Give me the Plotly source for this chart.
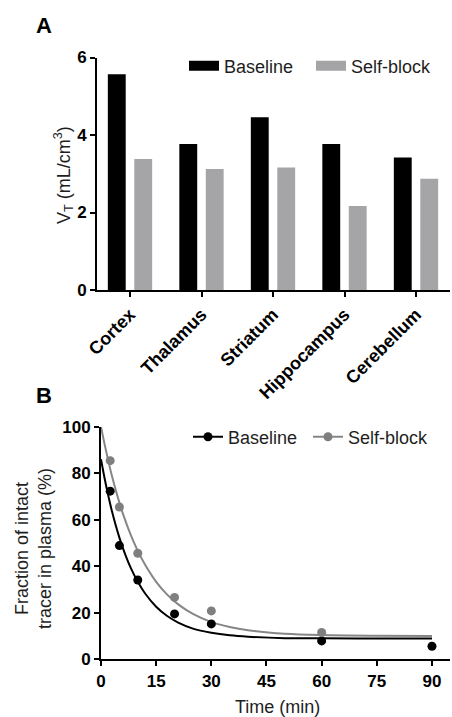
import plotly.graph_objects as go

# ---------------- data ----------------
regions = ["Cortex", "Thalamus", "Striatum", "Hippocampus", "Cerebellum"]
vt_baseline = [5.57, 3.77, 4.46, 3.77, 3.42]
vt_selfblock = [3.38, 3.12, 3.16, 2.17, 2.87]

time_baseline = [2.5, 5, 10, 20, 30, 60, 90]
frac_baseline = [72.3, 48.9, 34.1, 19.5, 15.2, 7.9, 5.6]
time_selfblock = [2.5, 5, 10, 20, 30, 60]
frac_selfblock = [85.4, 65.5, 45.6, 26.6, 20.8, 11.5]

fit_time = [0, 1, 2, 3, 4, 5, 6, 8, 10, 12, 15, 18, 21, 25, 30, 35, 40, 50, 60, 75, 90]
fit_baseline = [86.0, 77.6, 70.2, 63.5, 57.6, 52.3, 47.6, 39.6, 33.3, 28.3, 22.6, 18.6,
                15.8, 13.2, 11.4, 10.3, 9.7, 9.1, 9.0, 8.9, 8.9]
fit_selfblock = [100.0, 92.3, 85.2, 78.7, 72.8, 67.4, 62.4, 53.8, 46.6, 40.6, 33.3, 27.8,
                 23.6, 19.5, 16.0, 13.9, 12.5, 11.0, 10.4, 10.1, 10.0]

time_ticks = [0, 15, 30, 45, 60, 75, 90]
frac_ticks = [0, 20, 40, 60, 80, 100]
vt_ticks = [0, 2, 4, 6]
series_names = ["Baseline", "Self-block"]

# ---------------- style ----------------
FONT = "Arial, Liberation Sans, sans-serif"
BLACK = "#000000"
BAR_GRAY = "#a5a5a8"
LINE_GRAY = "#868686"
MARK_GRAY = "#7f7f7f"
TEXT = "#1e1e1e"
W, H = 452, 717


def px_x(p):
    return p / W


def px_y(p):
    return 1 - p / H


fig = go.Figure()

# Panel A bars
fig.add_trace(go.Bar(x=regions, y=vt_baseline, name=series_names[0], marker_color=BLACK,
                     marker_line_width=0, width=0.25, offset=-0.31,
                     xaxis="x", yaxis="y", showlegend=False))
fig.add_trace(go.Bar(x=regions, y=vt_selfblock, name=series_names[1], marker_color=BAR_GRAY,
                     marker_line_width=0, width=0.25, offset=0.06,
                     xaxis="x", yaxis="y", showlegend=False))
# Panel A legend swatches (wide rectangles)
for nm, col in zip(series_names, [BLACK, BAR_GRAY]):
    fig.add_trace(go.Scatter(x=[None], y=[None], mode="lines", name=nm,
                             line=dict(color=col, width=12), xaxis="x", yaxis="y",
                             legend="legend"))

# Panel B fits (lines) and points
fig.add_trace(go.Scatter(x=fit_time, y=fit_baseline, mode="lines", line=dict(color=BLACK, width=2),
                         line_shape="spline", showlegend=False, xaxis="x2", yaxis="y2", hoverinfo="skip"))
fig.add_trace(go.Scatter(x=fit_time, y=fit_selfblock, mode="lines", line=dict(color=LINE_GRAY, width=2),
                         line_shape="spline", showlegend=False, xaxis="x2", yaxis="y2", hoverinfo="skip"))
fig.add_trace(go.Scatter(x=time_baseline, y=frac_baseline, mode="markers", name=series_names[0],
                         marker=dict(color=BLACK, size=9), xaxis="x2", yaxis="y2", showlegend=False))
fig.add_trace(go.Scatter(x=time_selfblock, y=frac_selfblock, mode="markers", name=series_names[1],
                         marker=dict(color=MARK_GRAY, size=9), xaxis="x2", yaxis="y2", showlegend=False))
# Panel B legend entries (line + marker)
for nm, lc, mc in zip(series_names, [BLACK, LINE_GRAY], [BLACK, MARK_GRAY]):
    fig.add_trace(go.Scatter(x=[None], y=[None], mode="lines+markers", name=nm,
                             line=dict(color=lc, width=2), marker=dict(color=mc, size=9),
                             xaxis="x2", yaxis="y2", legend="legend2"))

axis_common = dict(showline=True, linecolor=BLACK, linewidth=2, ticks="outside", ticklen=5,
                   tickwidth=2, tickcolor=BLACK, showgrid=False, zeroline=False,
                   automargin=False,
                   tickfont=dict(family=FONT, size=17, color=BLACK, weight="bold"))


def ann(text, x, y, size=18, angle=0, color=TEXT):
    return dict(text=text, x=px_x(x), y=px_y(y), xref="paper", yref="paper",
                xanchor="center", yanchor="middle", showarrow=False, textangle=angle,
                font=dict(family=FONT, size=size, color=color))


fig.update_layout(
    template="none",
    width=W, height=H,
    margin=dict(l=0, r=0, t=0, b=0, autoexpand=False),
    paper_bgcolor="white", plot_bgcolor="white",
    font=dict(family=FONT, color=BLACK),
    barmode="overlay",
    hovermode=False,
    xaxis=dict(domain=[px_x(97), px_x(450)], anchor="y", type="category",
               range=[-0.4615, 4.4755], tickangle=-45, **{**axis_common,
               "tickfont": dict(family=FONT, size=18, color=BLACK, weight="bold")}),
    yaxis=dict(domain=[px_y(290), px_y(57.5)], anchor="x", range=[0, 6],
               tickvals=vt_ticks, **axis_common),
    xaxis2=dict(domain=[px_x(101), px_x(450)], anchor="y2", range=[0, 94.9],
                tickvals=time_ticks, **axis_common),
    yaxis2=dict(domain=[px_y(659.3), px_y(426.7)], anchor="x2", range=[0, 100],
                tickvals=frac_ticks, **axis_common),
    legend=dict(orientation="h", x=px_x(184), xanchor="left", y=px_y(66), yanchor="middle",
                font=dict(family=FONT, size=18, color=TEXT), bgcolor="rgba(0,0,0,0)",
                entrywidth=82, itemclick=False, itemdoubleclick=False),
    legend2=dict(orientation="h", x=px_x(188), xanchor="left", y=px_y(437), yanchor="middle",
                 font=dict(family=FONT, size=18, color=TEXT), bgcolor="rgba(0,0,0,0)",
                 entrywidth=75, itemclick=False, itemdoubleclick=False),
    annotations=[
        ann("<b>A</b>", 44, 25, size=22, color=BLACK),
        ann("<b>B</b>", 44, 395, size=22, color=BLACK),
        ann("V<sub>T</sub> (mL/cm<sup>3</sup>)", 63, 175, angle=-90),
        ann("Fraction of intact<br>tracer in plasma (%)", 33, 549, angle=-90),
        ann("Time (min)", 277, 707),
    ],
)

fig.write_html("out.html", config={"displayModeBar": False},
               post_script="document.body.style.margin='0px';")
